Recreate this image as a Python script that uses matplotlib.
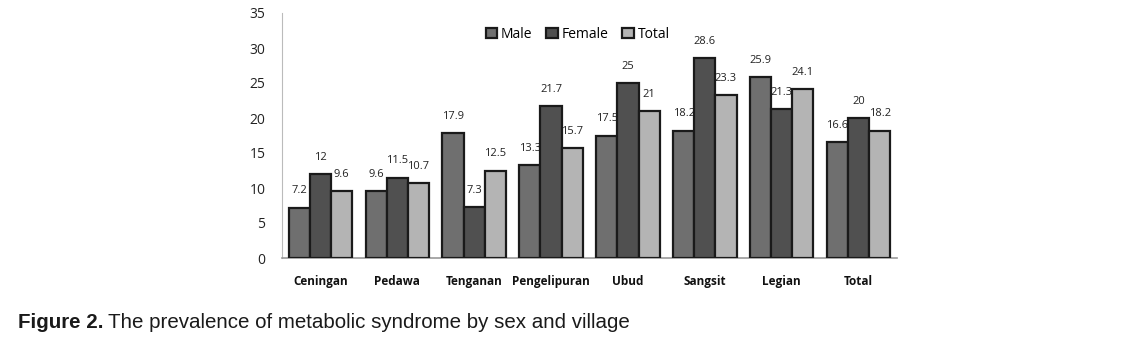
import matplotlib
matplotlib.use("Agg")
import matplotlib.pyplot as plt
import numpy as np

categories = ["Ceningan", "Pedawa", "Tenganan", "Pengelipuran", "Ubud", "Sangsit", "Legian", "Total"]
male = [7.2, 9.6, 17.9, 13.3, 17.5, 18.2, 25.9, 16.6]
female = [12, 11.5, 7.3, 21.7, 25, 28.6, 21.3, 20]
total = [9.6, 10.7, 12.5, 15.7, 21, 23.3, 24.1, 18.2]
series_names = ["Male", "Female", "Total"]
yticks = [0, 5, 10, 15, 20, 25, 30, 35]

fig = plt.figure(figsize=(11.29, 3.49), dpi=100)
W, H = 1129, 349
ax = fig.add_axes([282 / W, 1 - 258 / H, (897 - 282) / W, (258 - 13) / H])

x = np.arange(len(categories))
bw = 0.275
colors = ["#6f6f6f", "#505050", "#b4b4b4"]
data = [male, female, total]
for i, (vals, c, name) in enumerate(zip(data, colors, series_names)):
    xs = x + (i - 1) * bw
    ax.bar(xs, vals, width=bw, color=c, edgecolor="#1a1a1a", linewidth=1.6, label=name, zorder=3)
    for xi, v in zip(xs, vals):
        lbl = f"{v:g}"
        ax.annotate(lbl, (xi, v), xytext=(0, 8), textcoords="offset points",
                    ha="center", va="bottom", fontsize=8, color="#222222",
                    family="Open Sans")

ax.set_xlim(-0.5, len(categories) - 0.5)
ax.set_ylim(0, 35)
ax.set_yticks(yticks)
ax.set_yticklabels([str(t) for t in yticks], fontsize=10, color="#222222", family="Open Sans")
ax.set_xticks(x)
ax.set_xticklabels(categories, fontsize=8.5, fontweight="bold", color="#111111", family="Open Sans")
ax.tick_params(axis="both", length=0)
ax.tick_params(axis="y", pad=12)
ax.tick_params(axis="x", pad=12)
for s in ["top", "right"]:
    ax.spines[s].set_visible(False)
ax.spines["left"].set_color("#bbbbbb")
ax.spines["bottom"].set_color("#999999")
ax.spines["bottom"].set_linewidth(1.2)

leg = ax.legend(loc="upper center", bbox_to_anchor=(0.481, 0.995), ncol=3, frameon=False,
                handlelength=0.8, handleheight=0.8, handletextpad=0.3,
                columnspacing=1.0, prop={"family": "Open Sans", "size": 10})

fig.text(18 / W, 1 - 322 / H, "Figure 2.", fontsize=14.8, fontweight="bold",
         family="Liberation Sans", va="center", ha="left", color="#1a1a1a")
fig.text(108 / W, 1 - 322 / H, "The prevalence of metabolic syndrome by sex and village",
         fontsize=14.8, family="Liberation Sans", va="center", ha="left", color="#1a1a1a")

fig.savefig("out.png", dpi=100)
